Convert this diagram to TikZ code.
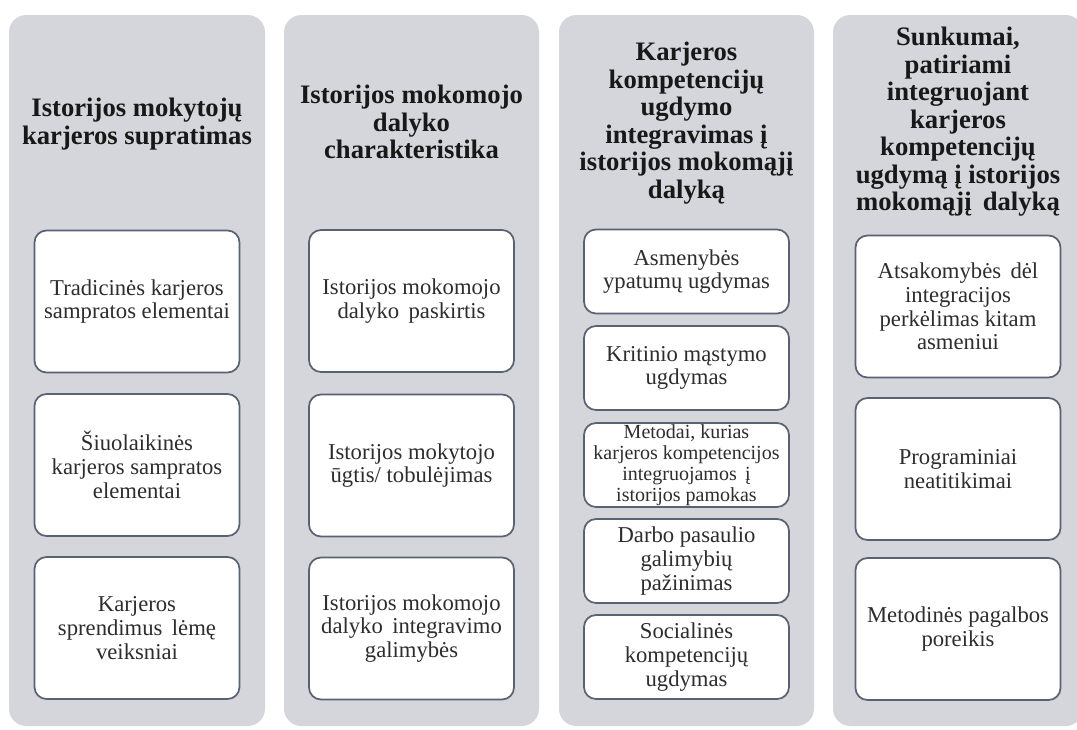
\documentclass[tikz,border=0pt]{standalone}
\usepackage{fontspec}
\setmainfont{Liberation Serif}
\definecolor{colgray}{RGB}{213,214,219}
\definecolor{boxline}{RGB}{88,98,114}
\definecolor{titletext}{RGB}{24,24,24}
\definecolor{itemtext}{RGB}{45,45,45}
\tikzset{
  column/.style={fill=colgray, rounded corners=13pt, inner sep=0pt,
    minimum height=533.25pt},
  heading/.style={align=center, inner sep=0pt, text=titletext,
    font=\fontsize{20}{20.6}\selectfont\bfseries},
  item/.style={draw=boxline, line width=1.3pt, fill=white, rounded corners=9pt,
    inner sep=0pt, align=center, text=itemtext,
    minimum width=153.75pt, minimum height=106.5pt,
    font=\fontsize{17}{17.8}\selectfont},
  smallitem/.style={item, minimum height=63pt},
}
\begin{document}
\begin{tikzpicture}[x=0.75pt, y=-0.75pt]
\useasboundingbox (0,0) rectangle (1077,729);
\fill[white] (0,0) rectangle (1077,729);

% four grey columns
\node[column, minimum width=192pt]    (col1) at (137,370.5) {};
\node[column, minimum width=191.25pt] (col2) at (411.5,370.5) {};
\node[column, minimum width=191.25pt] (col3) at (686.5,370.5) {};
\node[column, minimum width=187.5pt]  (col4) at (958,370.5) {};

% column headings
\node[heading] (h1) at (137,124) {Istorijos mokytojų\\karjeros supratimas};
\node[heading] (h2) at (411.5,122) {Istorijos mokomojo\\dalyko\\charakteristika};
\node[heading] (h3) at (686.5,123) {Karjeros\\kompetencijų\\ugdymo\\integravimas į\\istorijos mokomąjį\\dalyką};
\node[heading] (h4) at (958,122) {Sunkumai,\\patiriami\\integruojant\\karjeros\\kompetencijų\\ugdymą į istorijos\\mokomąjį\, dalyką};

% column 1
\node[item] (a1) at (137,301.5) {Tradicinės karjeros\\sampratos elementai};
\node[item] (a2) at (137,465) {Šiuolaikinės\\karjeros sampratos\\elementai};
\node[item] (a3) at (137,628) {Karjeros\\sprendimus\, lėmę\\veiksniai};

% column 2
\node[item] (b1) at (411.5,301) {Istorijos mokomojo\\dalyko\, paskirtis};
\node[item] (b2) at (411.5,465.5) {Istorijos mokytojo\\ūgtis/ tobulėjimas};
\node[item] (b3) at (411.5,628.5) {Istorijos mokomojo\\dalyko\, integravimo\\galimybės};

% column 3
\node[smallitem] (c1) at (686.5,271.5) {Asmenybės\\ypatumų ugdymas};
\node[smallitem] (c2) at (686.5,368) {Kritinio mąstymo\\ugdymas};
\node[smallitem, font=\fontsize{15}{15.6}\selectfont] (c3) at (686.5,465)
  {Metodai, kurias\\karjeros kompetencijos\\integruojamos\, į\\istorijos pamokas};
\node[smallitem] (c4) at (686.5,561) {Darbo pasaulio\\galimybių\\pažinimas};
\node[smallitem] (c5) at (686.5,657) {Socialinės\\kompetencijų\\ugdymas};

% column 4
\node[item] (d1) at (958,306.5) {Atsakomybės\, dėl\\integracijos\\perkėlimas kitam\\asmeniui};
\node[item] (d2) at (958,469) {Programiniai\\neatitikimai};
\node[item] (d3) at (958,629) {Metodinės pagalbos\\poreikis};
\end{tikzpicture}
\end{document}
